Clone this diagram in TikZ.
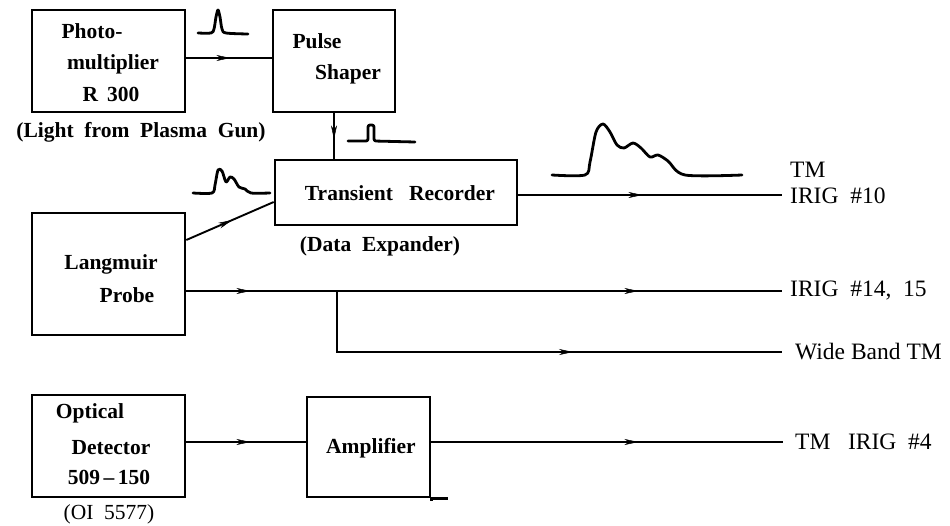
\documentclass[tikz,border=0pt]{standalone}
\usepackage{fontspec}
\setmainfont{Liberation Serif}
\usetikzlibrary{arrows.meta,decorations.markings}
\begin{document}
\begin{tikzpicture}[x=1pt,y=-1pt,
  box/.style={draw,line width=2.6pt,inner sep=0pt,minimum width=#1},
  btxt/.style={inner sep=0pt,font=\fontsize{21.5}{25}\selectfont\bfseries},
  ltxt/.style={inner sep=0pt,anchor=west,font=\fontsize{23.5}{27}\selectfont},
  conn/.style={line width=1.9pt},
  wave/.style={line width=2.8pt,line cap=round,line join=round},
  am/.style={postaction={decorate,decoration={markings,mark=at position #1 with {\arrow[line width=0.5pt]{Stealth[length=14pt,width=6pt]}}}}}
]
\useasboundingbox (0,0) rectangle (950,525);
% boxes
\node[box=153pt,minimum height=102pt] (pm) at (108.5,61) {};
\node[box=122pt,minimum height=102pt] (ps) at (334,61) {};
\node[box=242pt,minimum height=65pt] (tr) at (396,192.5) {};
\node[box=153pt,minimum height=122pt] (lp) at (108.5,274) {};
\node[box=153pt,minimum height=102pt] (od) at (108.5,446) {};
\node[box=123pt,minimum height=100pt] (amp) at (368.5,447) {};
% box texts
\node[btxt] (t1) at (92,31) {Photo-};
\node[btxt] (t2) at (113,64) {multiplier};
\node[btxt] (t3) at (111,94) {R\ \,300};
\node[btxt] (t4) at (317,41) {Pulse};
\node[btxt] (t5) at (348,74) {Shaper};
\node[btxt] (t6) at (400,193) {Transient\ \ \ Recorder};
\node[btxt] (t7) at (111,264) {Langmuir};
\node[btxt] (t8) at (127,295) {Probe};
\node[btxt] (t9) at (90,413) {Optical};
\node[btxt] (t10) at (111,448) {Detector};
\node[btxt] (t11) at (109,477) {509\,--\,150};
\node[btxt] (t12) at (371,448) {Amplifier};
% captions
\node[btxt] (c1) at (141,132) {(Light\ \ from\ \ Plasma\ \ Gun)};
\node[btxt] (c2) at (380,246) {(Data\ \ Expander)};
\node[btxt,font=\fontsize{21.5}{25}\selectfont] (c3) at (109,514) {(OI\ \ 5577)};
% end labels
\coordinate (e10) at (782,195);
\coordinate (e14) at (782,291);
\coordinate (br) at (337,291);
\coordinate (bc) at (337,352);
\coordinate (ewb) at (782,352);
\coordinate (e4) at (783,442);
\node[ltxt] (l1) at (790,170) {TM};
\node[ltxt] (l2) at (790,196) {IRIG\ \ \#10};
\node[ltxt] (l3) at (790,291) {IRIG\ \ \#14,\ \ 15};
\node[ltxt] (l4) at (795,352) {Wide\ Band\ TM};
\node[ltxt] (l5) at (795,442) {TM\ \ \ IRIG\ \ \#4};
% connectors
\draw[conn,am=44pt] ([yshift=3pt]pm.east) -- ([yshift=3pt]ps.west);
\draw[conn,am=26pt] (ps.south) -- (ps.south |- tr.north);
\draw[conn,am=50pt] ([yshift=34pt]lp.east) -- ([yshift=-9.5pt]tr.west);
\draw[conn,am=124pt] ([yshift=-2.5pt]tr.east) -- (e10);
\draw[conn,am=64pt,am=452pt] ([yshift=-17pt]lp.east) -- (e14);
\draw[conn,am=297pt] (br) -- (bc) -- (ewb);
\draw[conn,am=64pt] ([yshift=4pt]od.east) -- ([yshift=5pt]amp.west);
\draw[conn,am=207pt] ([yshift=5pt]amp.east) -- (e4);
\draw[line width=2.6pt] (amp.south east) -- ++(17,0);
\draw[line width=2.6pt] (amp.south east) -- ++(0,3);
% waveforms
\draw[wave] plot[smooth,tension=0.5] coordinates {(198,33) (211,33) (214,29) (216,17) (218,10) (220,17) (222,29) (226,33) (248,34)};
\draw[wave,rounded corners=2pt] (348,141) -- (368,141) -- (368,125) -- (374,125) -- (374,141) -- (415,142);
\draw[wave] plot[smooth,tension=0.5] coordinates {(193,193) (212,193) (215,185) (218,170) (222,171) (226,182) (230,177) (234,179) (239,187) (245,189) (251,193) (270,193)};
\draw[wave] plot[smooth,tension=0.5] coordinates {(552,175) (585,175) (590,162) (596,132) (603,124) (610,132) (617,145) (624,148) (633,143) (641,148) (650,157) (658,155) (668,161) (685,175) (742,175)};
\end{tikzpicture}
\end{document}
